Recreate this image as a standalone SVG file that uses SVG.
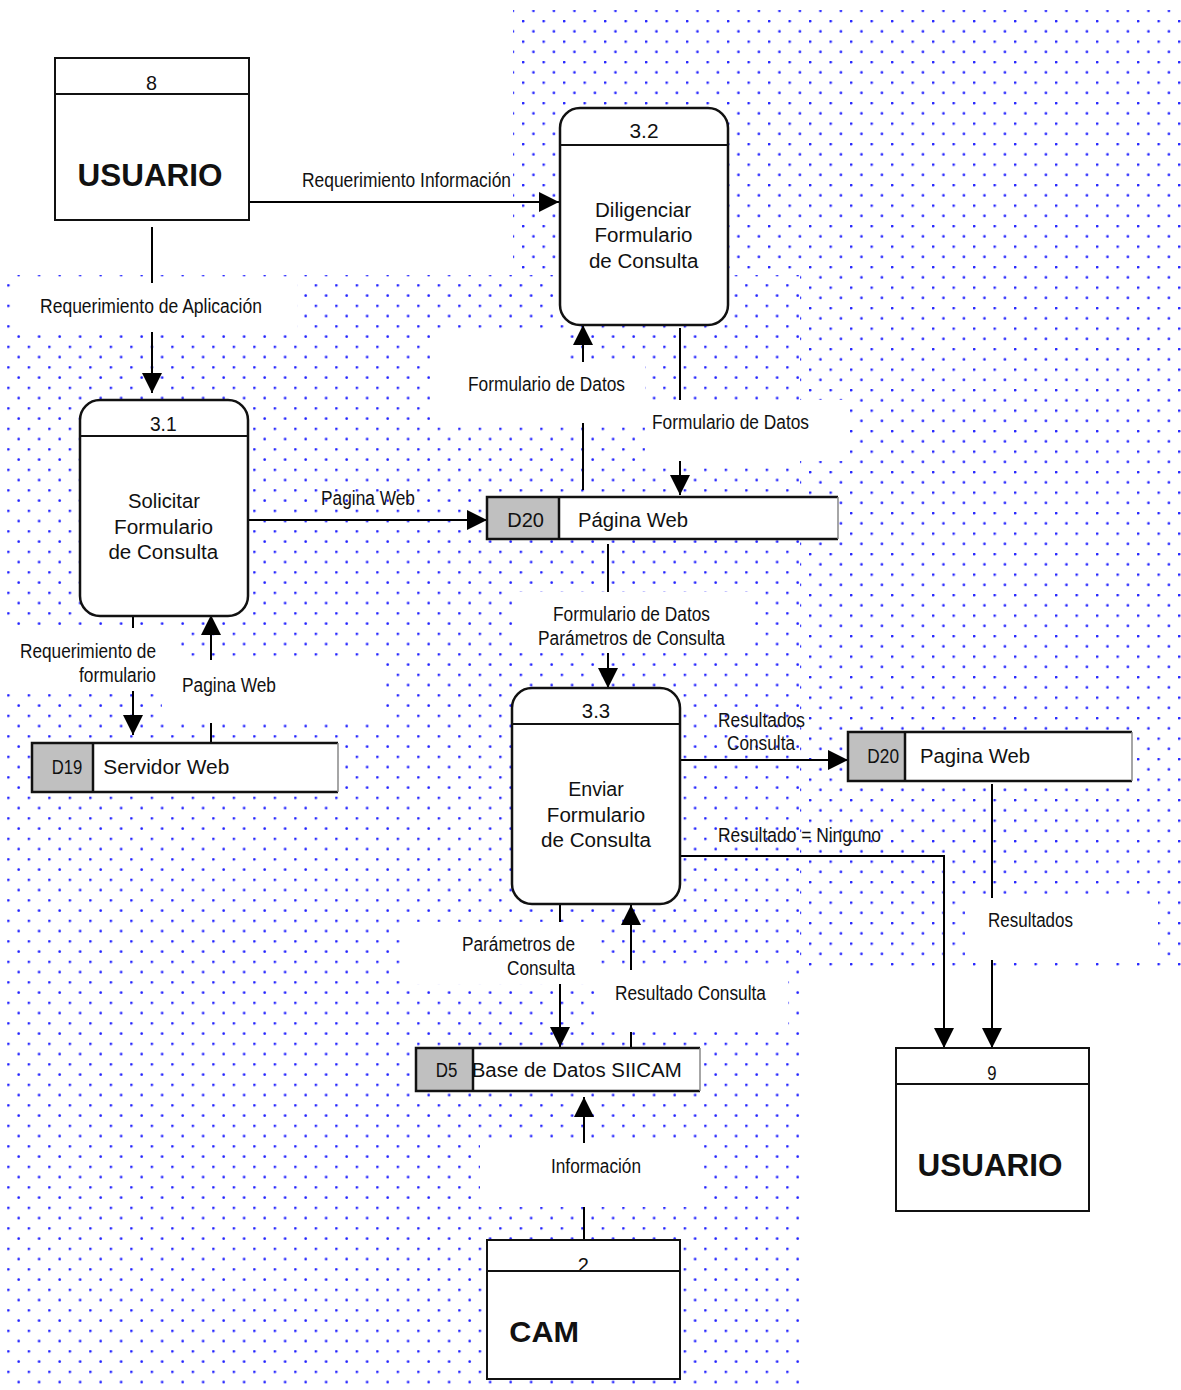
<svg xmlns="http://www.w3.org/2000/svg" width="1181" height="1390" viewBox="0 0 1181 1390">
<style>
.box{fill:#fff;stroke:#111;stroke-width:2}
.proc{fill:#fff;stroke:#111;stroke-width:2.5}
.hl{stroke:#111;stroke-width:2}
.t{font-family:"Liberation Sans",Arial,sans-serif;font-size:20px;fill:#111}
.c{text-anchor:middle}
.bold{font-weight:bold}
.conn{fill:none;stroke:#000;stroke-width:2;marker-end:url(#arrow)}
.lbg{fill:#fff}
.ds{fill:#fff}
.dsg{fill:#c0c0c0}
.dsb{fill:none;stroke:#111;stroke-width:2.5}
.dsr{stroke:#888;stroke-width:1.5}
.dot{fill:#2222ff}
</style>
<defs>
<pattern id="dotsA" patternUnits="userSpaceOnUse" width="20.5" height="20.5" x="809" y="389">
<circle class="dot" cx="1.2" cy="1.2" r="1.35"/>
<circle class="dot" cx="11.45" cy="11.45" r="1.35"/>
</pattern>
<pattern id="dotsB" patternUnits="userSpaceOnUse" width="20.5" height="20.5" x="7.2" y="612.2">
<circle class="dot" cx="1.2" cy="1.2" r="1.35"/>
<circle class="dot" cx="11.45" cy="11.45" r="1.35"/>
</pattern>
<marker id="arrow" markerUnits="userSpaceOnUse" viewBox="0 0 20 20" refX="20" refY="10" markerWidth="20" markerHeight="20" orient="auto">
<path d="M0,0 L20,10 L0,20 z" fill="#000"/>
</marker>
<clipPath id="clip2"><rect x="487" y="1240" width="193" height="30.5"/></clipPath>
</defs>
<rect x="0" y="0" width="1181" height="1390" fill="#fff"/>
<g id="background">
<rect x="513" y="10" width="668" height="956" fill="url(#dotsA)"/>
<rect x="7" y="275" width="793" height="1115" fill="#fff"/>
<rect x="7" y="275" width="793" height="1115" fill="url(#dotsB)"/>
</g>
<g id="connectors">
<path class="conn" d="M249,202 H559"/>
<path class="conn" d="M152,227 V393"/>
<path class="conn" d="M248,520 H487"/>
<path class="conn" d="M583,490 V325"/>
<path class="conn" d="M680,328 V495"/>
<path class="conn" d="M608,544 V688"/>
<path class="conn" d="M133,616 V735"/>
<path class="conn" d="M211,743 V615"/>
<path class="conn" d="M680,760 H848"/>
<path class="conn" d="M680,856 H944 V1048"/>
<path class="conn" d="M992,784 V1048"/>
<path class="conn" d="M560,904 V1047"/>
<path class="conn" d="M631,1047 V905"/>
<path class="conn" d="M584,1240 V1097"/>
</g>
<g id="labels">
<rect class="lbg" x="13" y="283" width="284" height="49"/>
<rect class="lbg" x="430" y="333" width="135" height="30"/>
<rect class="lbg" x="430" y="362" width="215" height="61"/>
<rect class="lbg" x="645" y="400" width="200" height="61"/>
<rect class="lbg" x="513" y="592" width="240" height="61"/>
<rect class="lbg" x="6" y="628" width="174" height="63"/>
<rect class="lbg" x="162" y="660" width="218" height="63"/>
<rect class="lbg" x="402" y="922" width="198" height="62"/>
<rect class="lbg" x="600" y="970" width="188" height="62"/>
<rect class="lbg" x="480" y="1143" width="222" height="64"/>
<rect class="lbg" x="965" y="898" width="193" height="62"/>
<text class="t" x="302" y="187" textLength="209" lengthAdjust="spacingAndGlyphs">Requerimiento Información</text>
<text class="t" x="40" y="313" textLength="222" lengthAdjust="spacingAndGlyphs">Requerimiento de Aplicación</text>
<text class="t" x="468" y="391" textLength="157" lengthAdjust="spacingAndGlyphs">Formulario de Datos</text>
<text class="t" x="652" y="429" textLength="157" lengthAdjust="spacingAndGlyphs">Formulario de Datos</text>
<text class="t" x="321" y="505" textLength="94" lengthAdjust="spacingAndGlyphs">Pagina Web</text>
<text class="t" x="553" y="621" textLength="157" lengthAdjust="spacingAndGlyphs">Formulario de Datos</text>
<text class="t" x="538" y="645" textLength="187" lengthAdjust="spacingAndGlyphs">Parámetros de Consulta</text>
<text class="t" x="20" y="658" textLength="136" lengthAdjust="spacingAndGlyphs">Requerimiento de</text>
<text class="t" x="79" y="682" textLength="77" lengthAdjust="spacingAndGlyphs">formulario</text>
<text class="t" x="182" y="692" textLength="94" lengthAdjust="spacingAndGlyphs">Pagina Web</text>
<text class="t" x="718" y="727" textLength="87" lengthAdjust="spacingAndGlyphs">Resultados</text>
<text class="t" x="727" y="750" textLength="68" lengthAdjust="spacingAndGlyphs">Consulta</text>
<text class="t" x="718" y="842" textLength="163" lengthAdjust="spacingAndGlyphs">Resultado = Ninguno</text>
<text class="t" x="988" y="927" textLength="85" lengthAdjust="spacingAndGlyphs">Resultados</text>
<text class="t" x="462" y="951" textLength="113" lengthAdjust="spacingAndGlyphs">Parámetros de</text>
<text class="t" x="507" y="975" textLength="68" lengthAdjust="spacingAndGlyphs">Consulta</text>
<text class="t" x="615" y="1000" textLength="151" lengthAdjust="spacingAndGlyphs">Resultado Consulta</text>
<text class="t" x="551" y="1173" textLength="90" lengthAdjust="spacingAndGlyphs">Información</text>
</g>
<g id="node-8">
<rect class="box" x="55" y="58" width="194" height="162"/>
<line class="hl" x1="55" y1="94" x2="249" y2="94"/>
<text class="t c" x="151.5" y="90" textLength="11" lengthAdjust="spacingAndGlyphs">8</text>
<text class="t c bold" x="150" y="186" style="font-size:32px" textLength="145" lengthAdjust="spacingAndGlyphs">USUARIO</text>
</g>
<g id="node-3-2">
<rect class="proc" x="560" y="108" width="168" height="217" rx="20" ry="20"/>
<line class="hl" x1="560" y1="145" x2="728" y2="145"/>
<text class="t c" x="644" y="138" textLength="29" lengthAdjust="spacingAndGlyphs">3.2</text>
<text class="t c" x="643" y="217" textLength="96" lengthAdjust="spacingAndGlyphs">Diligenciar</text>
<text class="t c" x="643.5" y="242" textLength="98" lengthAdjust="spacingAndGlyphs">Formulario</text>
<text class="t c" x="643.7" y="268" textLength="109.5" lengthAdjust="spacingAndGlyphs">de Consulta</text>
</g>
<g id="node-3-1">
<rect class="proc" x="80" y="400" width="168" height="216" rx="20" ry="20"/>
<line class="hl" x1="80" y1="436" x2="248" y2="436"/>
<text class="t c" x="163.3" y="431" textLength="26.7" lengthAdjust="spacingAndGlyphs">3.1</text>
<text class="t c" x="164" y="508" textLength="72" lengthAdjust="spacingAndGlyphs">Solicitar</text>
<text class="t c" x="163.5" y="534" textLength="99" lengthAdjust="spacingAndGlyphs">Formulario</text>
<text class="t c" x="163.3" y="559" textLength="109.7" lengthAdjust="spacingAndGlyphs">de Consulta</text>
</g>
<g id="node-3-3">
<rect class="proc" x="512" y="688" width="168" height="216" rx="20" ry="20"/>
<line class="hl" x1="512" y1="724" x2="680" y2="724"/>
<text class="t c" x="596" y="718" textLength="28.3" lengthAdjust="spacingAndGlyphs">3.3</text>
<text class="t c" x="596" y="796" textLength="55.7" lengthAdjust="spacingAndGlyphs">Enviar</text>
<text class="t c" x="596" y="822" textLength="98.3" lengthAdjust="spacingAndGlyphs">Formulario</text>
<text class="t c" x="596" y="847" textLength="110" lengthAdjust="spacingAndGlyphs">de Consulta</text>
</g>
<g id="store-d20-a">
<rect class="ds" x="487" y="497" width="351" height="42"/>
<rect class="dsg" x="487" y="497" width="72" height="42"/>
<text class="t" x="507.3" y="527" textLength="36.7" lengthAdjust="spacingAndGlyphs">D20</text>
<text class="t" x="578" y="527" textLength="110" lengthAdjust="spacingAndGlyphs">Página Web</text>
<path class="dsb" d="M838,497 H487 V539 H838"/>
<line class="dsr" x1="838" y1="497" x2="838" y2="539"/>
<line class="hl" x1="559" y1="497" x2="559" y2="539" style="stroke-width:2.5"/>
</g>
<g id="store-d20-b">
<rect class="ds" x="848" y="732" width="284" height="49"/>
<rect class="dsg" x="848" y="732" width="57" height="49"/>
<text class="t" x="867.3" y="763" textLength="31.7" lengthAdjust="spacingAndGlyphs">D20</text>
<text class="t" x="920" y="763" textLength="110" lengthAdjust="spacingAndGlyphs">Pagina Web</text>
<path class="dsb" d="M1132,732 H848 V781 H1132"/>
<line class="dsr" x1="1132" y1="732" x2="1132" y2="781"/>
<line class="hl" x1="905" y1="732" x2="905" y2="781" style="stroke-width:2.5"/>
</g>
<g id="store-d19">
<rect class="ds" x="32" y="743" width="306" height="49"/>
<rect class="dsg" x="32" y="743" width="61" height="49"/>
<text class="t" x="51.7" y="774" textLength="30.6" lengthAdjust="spacingAndGlyphs">D19</text>
<text class="t" x="103.3" y="774" textLength="126" lengthAdjust="spacingAndGlyphs">Servidor Web</text>
<path class="dsb" d="M338,743 H32 V792 H338"/>
<line class="dsr" x1="338" y1="743" x2="338" y2="792"/>
<line class="hl" x1="93" y1="743" x2="93" y2="792" style="stroke-width:2.5"/>
</g>
<g id="store-d5">
<rect class="ds" x="416" y="1048" width="284" height="43"/>
<rect class="dsg" x="416" y="1048" width="57" height="43"/>
<text class="t" x="435.7" y="1077" textLength="21.6" lengthAdjust="spacingAndGlyphs">D5</text>
<text class="t" x="471.7" y="1077" textLength="210" lengthAdjust="spacingAndGlyphs">Base de Datos SIICAM</text>
<path class="dsb" d="M700,1048 H416 V1091 H700"/>
<line class="dsr" x1="700" y1="1048" x2="700" y2="1091"/>
<line class="hl" x1="473" y1="1048" x2="473" y2="1091" style="stroke-width:2.5"/>
</g>
<g id="node-9">
<rect class="box" x="896" y="1048" width="193" height="163"/>
<line class="hl" x1="896" y1="1084" x2="1089" y2="1084"/>
<text class="t c" x="992" y="1080" textLength="9.3" lengthAdjust="spacingAndGlyphs">9</text>
<text class="t c bold" x="990" y="1176" style="font-size:32px" textLength="145" lengthAdjust="spacingAndGlyphs">USUARIO</text>
</g>
<g id="node-2">
<rect class="box" x="487" y="1240" width="193" height="139"/>
<text class="t c" x="583.3" y="1272" clip-path="url(#clip2)">2</text>
<line class="hl" x1="487" y1="1271" x2="680" y2="1271"/>
<text class="t bold" x="509.3" y="1342" style="font-size:30px" textLength="69.7" lengthAdjust="spacingAndGlyphs">CAM</text>
</g>
</svg>
